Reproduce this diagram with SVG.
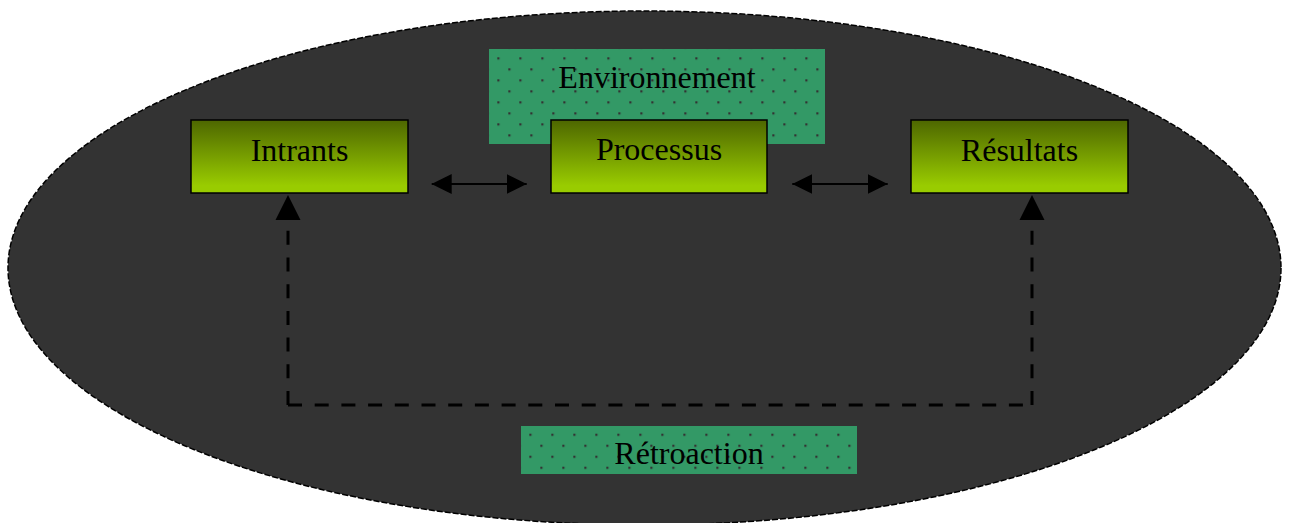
<svg xmlns="http://www.w3.org/2000/svg" width="1290" height="523" viewBox="0 0 1290 523">
  <defs>
    <linearGradient id="boxGrad" x1="0" y1="0" x2="0" y2="1">
      <stop offset="0" stop-color="#4d6600"/>
      <stop offset="0.9" stop-color="#99cc00"/>
      <stop offset="1" stop-color="#99cc00"/>
    </linearGradient>
    <pattern id="dotsEnv" patternUnits="userSpaceOnUse" x="13.3" y="13.3" width="22" height="22">
      <rect width="22" height="22" fill="#339966"/>
      <rect x="0" y="0" width="2.2" height="2.2" fill="#333333"/>
      <rect x="11" y="11" width="2.2" height="2.2" fill="#333333"/>
    </pattern>
    <pattern id="dotsRet" patternUnits="userSpaceOnUse" x="1.3" y="15.7" width="22" height="22">
      <rect width="22" height="22" fill="#339966"/>
      <rect x="0" y="0" width="2.2" height="2.2" fill="#333333"/>
      <rect x="11" y="11" width="2.2" height="2.2" fill="#333333"/>
    </pattern>
    <marker id="head" viewBox="0 0 20 20" refX="20" refY="10" markerWidth="20" markerHeight="20" markerUnits="userSpaceOnUse" orient="auto-start-reverse">
      <path d="M0,0 L20,10 L0,20 Z" fill="#000"/>
    </marker>
  </defs>
  <style>
    .box { fill: url(#boxGrad); stroke: #000; stroke-width: 1.5; }
    .label { font-family: "Liberation Serif", "Times New Roman", serif; font-size: 32px; fill: #000; text-anchor: middle; }
    .dbl { stroke: #000; stroke-width: 2; fill: none; }
    .fb { stroke: #000; stroke-width: 3; fill: none; stroke-dasharray: 14 12.7; }
  </style>

  <g id="system">
    <ellipse cx="644.5" cy="268" rx="636.5" ry="257" fill="#333333" stroke="#000" stroke-width="1.5" stroke-dasharray="6 2"/>
  </g>

  <g id="environnement">
    <rect x="489" y="49" width="336" height="95" fill="url(#dotsEnv)"/>
    <text class="label" x="657" y="88">Environnement</text>
  </g>

  <g id="intrants">
    <rect class="box" x="191" y="120" width="217" height="73"/>
    <text class="label" x="299.5" y="160.5">Intrants</text>
  </g>

  <g id="processus">
    <rect class="box" x="551" y="120" width="216" height="73"/>
    <text class="label" x="659" y="160">Processus</text>
  </g>

  <g id="resultats">
    <rect class="box" x="911" y="120" width="217" height="73"/>
    <text class="label" x="1019.5" y="160.5">Résultats</text>
  </g>

  <g id="retroaction">
    <rect x="521" y="426" width="336" height="48" fill="url(#dotsRet)"/>
    <text class="label" x="689" y="464">Rétroaction</text>
  </g>

  <g id="connectors">
    <line class="dbl" x1="431.7" y1="184" x2="526.7" y2="184" marker-start="url(#head)" marker-end="url(#head)"/>
    <line class="dbl" x1="792.3" y1="184" x2="887.7" y2="184" marker-start="url(#head)" marker-end="url(#head)"/>
    <path class="fb" d="M288,405 L288,220"/>
    <path class="fb" d="M288,405 L1032,405"/>
    <path class="fb" d="M1032,405 L1032,220"/>
    <path d="M288,195 L300.5,220 L275.5,220 Z" fill="#000"/>
    <path d="M1032,195 L1044.5,220 L1019.5,220 Z" fill="#000"/>
  </g>
</svg>
